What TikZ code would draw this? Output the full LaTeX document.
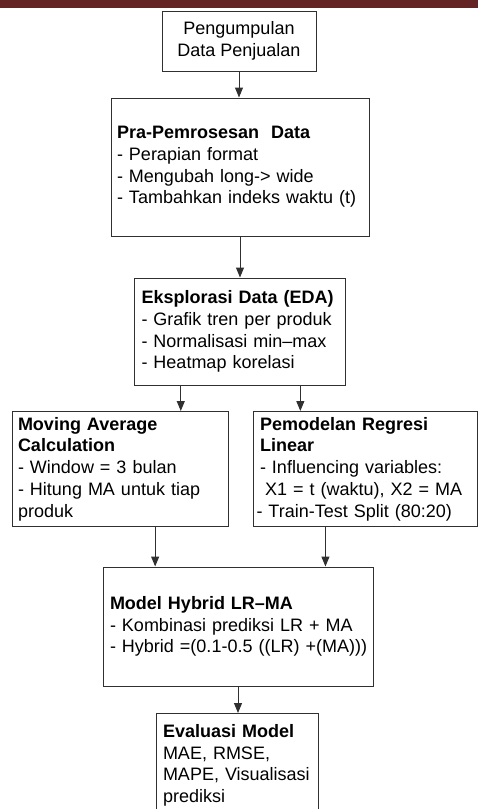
\documentclass[tikz,border=0pt]{standalone}
\usepackage{fontspec}
\setmainfont{Liberation Sans}
\usetikzlibrary{arrows.meta,calc}
\definecolor{barred}{HTML}{632423}
\definecolor{linegray}{HTML}{303030}
\newcommand\oneline[1]{\mbox{#1}}
\begin{document}
\begin{tikzpicture}[x=1pt,y=-1pt,
  box/.style={draw=linegray, line width=1pt, inner ysep=0pt, anchor=center,
    font=\fontsize{18}{21.7}\selectfont},
  arr/.style={draw=linegray, line width=1pt, -{Triangle[width=8pt,length=10pt]}}]
\useasboundingbox (0,0) rectangle (478,809);
\fill[barred] (0,0) rectangle (478,8);

\node[box, minimum width=154pt, minimum height=60pt, align=center] (b1) at (239,41)
  {Pengumpulan\\Data Penjualan};

\node[box, minimum width=258pt, minimum height=138pt, inner xsep=6pt, text width=246pt, align=left] (b2) at (240,167)
  {\oneline{\textbf{Pra-Pemrosesan\ \ Data}}\\\oneline{- Perapian format}\\\oneline{- Mengubah long-> wide}\\\oneline{- Tambahkan indeks waktu (t)}};

\node[box, minimum width=211pt, minimum height=107pt, inner xsep=7.5pt, text width=196pt, align=left] (b3) at (239.5,331.5)
  {\oneline{\textbf{Eksplorasi Data (EDA)}}\\\oneline{- Grafik tren per produk}\\\oneline{- Normalisasi min--max}\\\oneline{- Heatmap korelasi}};

\node[box, minimum width=216pt, minimum height=115pt, inner xsep=6pt, text width=204pt, align=left] (b4) at (120,469)
  {\oneline{\textbf{Moving Average}}\\\oneline{\textbf{Calculation}}\\\oneline{- Window = 3 bulan}\\\oneline{- Hitung MA untuk tiap}\\\oneline{produk}};

\node[box, minimum width=224pt, minimum height=115pt, inner xsep=6.5pt, text width=211pt, align=left] (b5) at (365.5,469)
  {\oneline{\textbf{Pemodelan Regresi}}\\\oneline{\textbf{Linear}}\\\oneline{- Influencing variables:}\\\oneline{\hspace*{5pt}X1 = t (waktu), X2 = MA}\\\oneline{\hspace*{-3.5pt}- Train-Test Split (80:20)}};

\node[box, minimum width=270pt, minimum height=119pt, inner xsep=7pt, text width=256pt, align=left] (b6) at (238,626.5)
  {\oneline{\textbf{Model Hybrid LR--MA}}\\\oneline{- Kombinasi prediksi LR + MA}\\\oneline{- Hybrid =(0.1-0.5 ((LR) +(MA)))}};

\node[box, anchor=north, minimum width=162pt, inner xsep=7pt, inner ysep=11pt, text width=148pt, align=left] (b7) at (237,713)
  {\oneline{\textbf{Evaluasi Model}}\\\oneline{MAE, RMSE,}\\\oneline{MAPE, Visualisasi}\\\oneline{prediksi}};

\draw[arr] (b1.south) -- (b1.south |- b2.north);
\draw[arr] (b2.south) -- (b2.south |- b3.north);
\coordinate (p3a) at ($(b3.south west)!0.223!(b3.south east)$);
\coordinate (p3b) at ($(b3.south west)!0.787!(b3.south east)$);
\draw[arr] (p3a) -- (p3a |- b4.north);
\draw[arr] (p3b) -- (p3b |- b5.north);
\coordinate (p4) at ($(b4.south west)!0.662!(b4.south east)$);
\coordinate (p5) at ($(b5.south west)!0.322!(b5.south east)$);
\draw[arr] (p4) -- (p4 |- b6.north);
\draw[arr] (p5) -- (p5 |- b6.north);
\draw[arr] (b6.south) -- (b6.south |- b7.north);
\end{tikzpicture}
\end{document}
